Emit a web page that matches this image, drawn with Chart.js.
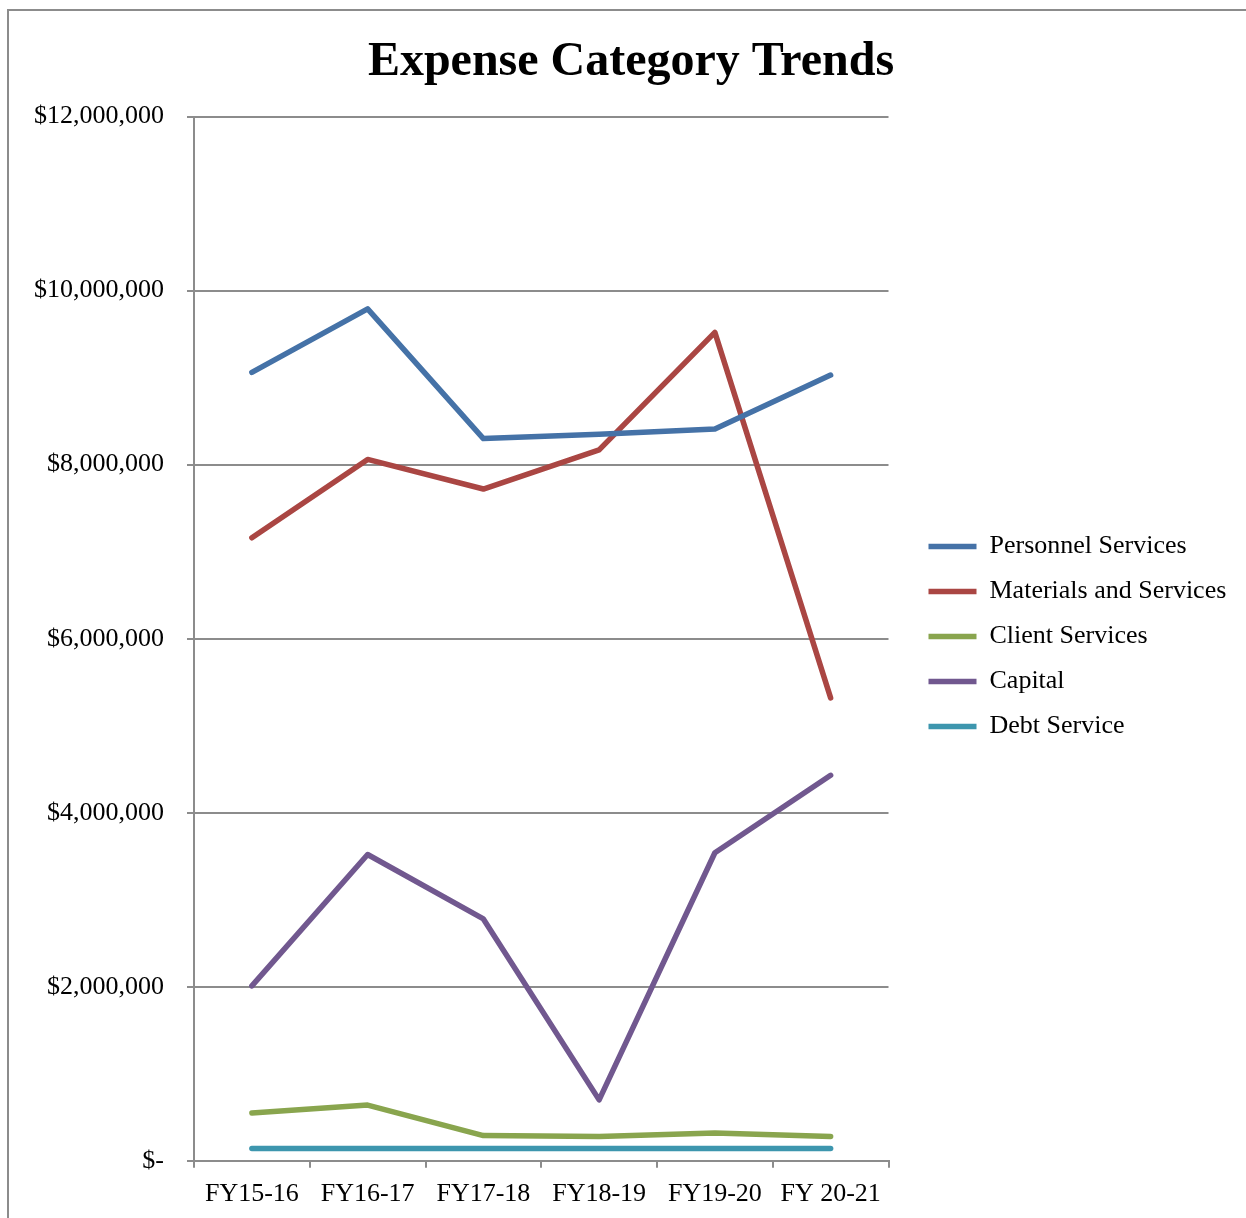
<!DOCTYPE html>
<html lang="en">
<head>
    <meta charset="UTF-8">
    <title>Expense Category Trends</title>
    <script src="https://cdn.jsdelivr.net/npm/chart.js"></script>
    <style>
        body { margin: 0; overflow: hidden; background: #fff; }
        #wrap { position: relative; width: 1246px; height: 1218px; }
        /* outer frame of the chart object, only left and top edges show */
        #frame {
            position: absolute; left: 7px; top: 9px; width: 2000px; height: 2000px;
            border-left: 2px solid #8c8c8c; border-top: 2px solid #8c8c8c;
            pointer-events: none;
        }
    </style>
</head>
<body>
    <div id="wrap">
        <canvas id="trendChart" width="1246" height="1218"></canvas>
        <div id="frame"></div>
    </div>

    <script>
        // fiscal years and expense totals per category
        const years = ['FY15-16', 'FY16-17', 'FY17-18', 'FY18-19', 'FY19-20', 'FY 20-21'];
        const personnel = [9060000, 9790000, 8300000, 8350000, 8410000, 9030000];
        const materials = [7160000, 8060000, 7720000, 8170000, 9520000, 5320000];
        const client    = [550000, 640000, 290000, 280000, 320000, 280000];
        const capital   = [2010000, 3520000, 2780000, 700000, 3540000, 4430000];
        const debt      = [140000, 140000, 140000, 140000, 140000, 140000];

        const serif = "'Liberation Serif', 'Times New Roman', serif";
        const gridGray = '#8c8c8c';

        function series(label, data, color) {
            return {
                label: label,
                data: data,
                borderColor: color,
                backgroundColor: color,
                borderWidth: 5.5,
                borderCapStyle: 'round',
                borderJoinStyle: 'round',
                pointRadius: 0,
                pointStyle: 'line',
                tension: 0,
                fill: false
            };
        }

        // nudge title and legend away from where the layout puts them;
        // the legend box is widened too so its longest label isn't clipped
        const blockShift = {
            id: 'blockShift',
            afterLayout(chart) {
                const lg = chart.legend;
                lg.left += 21; lg.right += 61;
                lg.top += 9; lg.bottom += 9;
                const tb = chart.titleBlock;
                tb.left += 35; tb.right += 35;
            }
        };

        const ctx = document.getElementById('trendChart').getContext('2d');
        new Chart(ctx, {
            type: 'line',
            data: {
                labels: years,
                datasets: [
                    series('Personnel Services', personnel, '#4572A7'),
                    series('Materials and Services', materials, '#AA4643'),
                    series('Client Services', client, '#89A54E'),
                    series('Capital', capital, '#71588F'),
                    series('Debt Service', debt, '#3D96AE')
                ]
            },
            options: {
                responsive: false,
                animation: false,
                layout: { padding: { left: 11, right: 65, top: 34, bottom: -3 } },
                plugins: {
                    tooltip: { enabled: false },
                    title: {
                        display: true,
                        text: 'Expense Category Trends',
                        color: '#000',
                        font: { family: serif, size: 48, weight: 'bold' },
                        padding: { top: 0, bottom: 25 }
                    },
                    legend: {
                        position: 'right',
                        labels: {
                            usePointStyle: true,
                            pointStyleWidth: 48,
                            padding: 19,
                            color: '#000',
                            font: { family: serif, size: 26 }
                        }
                    }
                },
                scales: {
                    x: {
                        offset: true,
                        grid: {
                            offset: true,
                            drawOnChartArea: false,
                            color: gridGray,
                            lineWidth: 2,
                            tickLength: 7
                        },
                        border: { color: gridGray, width: 2 },
                        ticks: {
                            color: '#000',
                            padding: 11,
                            maxRotation: 0,
                            font: { family: serif, size: 26 }
                        }
                    },
                    y: {
                        min: 0,
                        max: 12000000,
                        grid: { color: gridGray, lineWidth: 2, tickLength: 7 },
                        border: { color: gridGray, width: 2 },
                        ticks: {
                            stepSize: 2000000,
                            color: '#000',
                            padding: 23,
                            font: { family: serif, size: 26 },
                            callback: v => v === 0 ? '$-' : '$' + v.toLocaleString('en-US')
                        }
                    }
                }
            },
            plugins: [blockShift]
        });
    </script>
</body>
</html>
